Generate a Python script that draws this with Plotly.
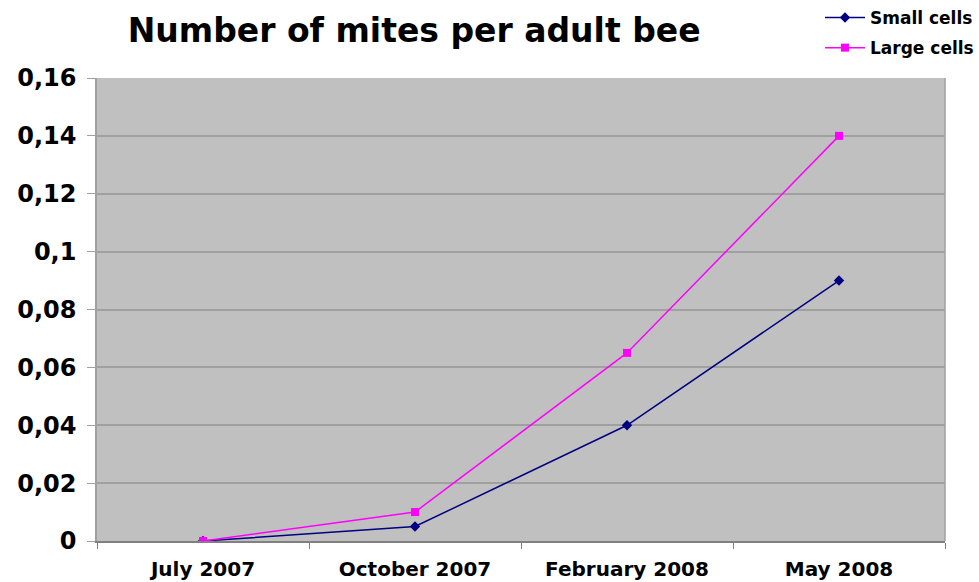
import plotly.graph_objects as go

# Sampling dates and mite load per adult bee
dates = ["July 2007", "October 2007", "February 2008", "May 2008"]
small_cells = [0, 0.005, 0.04, 0.09]
large_cells = [0, 0.01, 0.065, 0.14]

y_ticks = [0, 0.02, 0.04, 0.06, 0.08, 0.1, 0.12, 0.14, 0.16]
y_tick_labels = ["0", "0,02", "0,04", "0,06", "0,08", "0,1", "0,12", "0,14", "0,16"]

font_family = "DejaVu Sans"

fig = go.Figure()
fig.add_trace(go.Scatter(
    x=dates, y=small_cells, name="Small cells", mode="lines+markers",
    legendgroup="small",
    line=dict(color="#000080", width=1.5),
    marker=dict(symbol="diamond", size=8, color="#000080"),
))
fig.add_trace(go.Scatter(
    x=dates, y=large_cells, name="Large cells", mode="lines+markers",
    legendgroup="large",
    line=dict(color="#FF00FF", width=1.5),
    marker=dict(symbol="square", size=8, color="#FF00FF"),
))

fig.update_layout(
    width=979, height=582,
    margin=dict(l=97, r=34, t=78, b=41, autoexpand=False),
    paper_bgcolor="white",
    plot_bgcolor="#C0C0C0",
    font=dict(family=font_family, color="black"),
    title=dict(
        text="<b>Number of mites per adult bee</b>",
        x=0.423, xanchor="center", y=0.948, yanchor="middle",
        font=dict(size=33, family=font_family, color="black"),
    ),
    showlegend=True,
    legend=dict(
        xref="container", yref="container",
        x=1.0, xanchor="right", y=1.0, yanchor="top",
        bgcolor="rgba(0,0,0,0)",
        font=dict(size=17, family=font_family, color="black", weight="bold"),
        tracegroupgap=5, itemwidth=40,
    ),
    xaxis=dict(
        type="category", range=[-0.5, 3.5],
        showgrid=False, tickson="boundaries", ticks="outside",
        ticklen=6, tickcolor="#808080",
        showline=True, linecolor="#808080", linewidth=1.5, mirror=False,
        tickfont=dict(size=20, family=font_family, color="black", weight="bold"),
        ticklabelstandoff=9,
        fixedrange=True,
    ),
    yaxis=dict(
        range=[0, 0.16], tickvals=y_ticks, ticktext=y_tick_labels,
        showgrid=True, gridcolor="#A0A0A0", gridwidth=1.5,
        ticks="outside", ticklen=8, tickcolor="#A0A0A0",
        showline=True, linecolor="#A0A0A0", linewidth=1.5,
        zeroline=False,
        tickfont=dict(size=24, family=font_family, color="black", weight="bold"),
        ticklabelstandoff=6,
        fixedrange=True,
    ),
)

# Right-hand border of the plotting area
fig.add_shape(type="line", xref="paper", yref="paper", x0=1, x1=1, y0=0, y1=1,
              line=dict(color="#A0A0A0", width=1.5))

fig.write_html("out.html")
